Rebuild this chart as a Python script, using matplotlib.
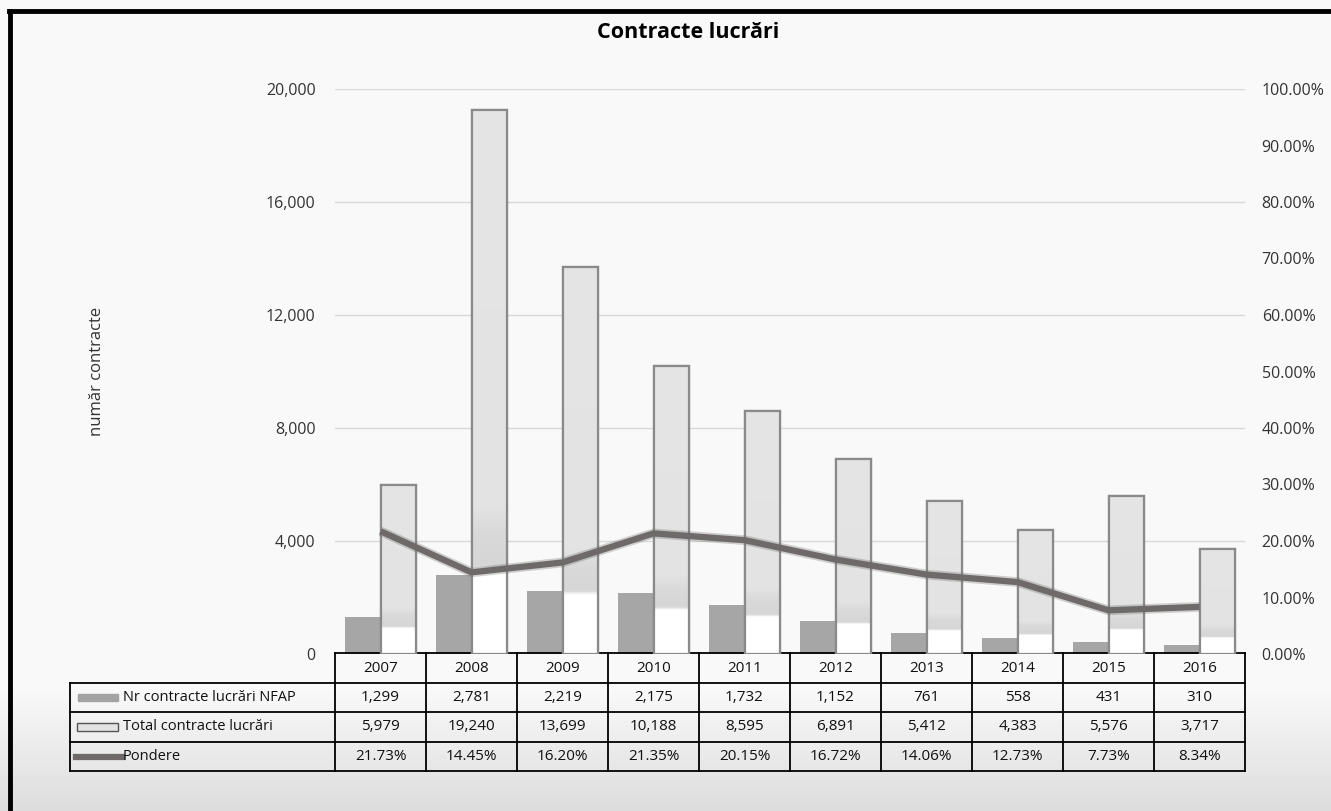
import matplotlib.pyplot as plt
import numpy as np
from matplotlib.transforms import blended_transform_factory
from matplotlib.colors import LinearSegmentedColormap
from matplotlib.ticker import FuncFormatter, MultipleLocator
import matplotlib.patches as mpatches

years = ['2007', '2008', '2009', '2010', '2011', '2012', '2013', '2014', '2015', '2016']
nfap = [1299, 2781, 2219, 2175, 1732, 1152, 761, 558, 431, 310]
total = [5979, 19240, 13699, 10188, 8595, 6891, 5412, 4383, 5576, 3717]
pondere = [21.73, 14.45, 16.20, 21.35, 20.15, 16.72, 14.06, 12.73, 7.73, 8.34]
row_labels = ['Nr contracte lucrări NFAP', 'Total contracte lucrări', 'Pondere']

plt.rcParams['font.family'] = ['Open Sans', 'DejaVu Sans']

W, H = 1331, 811
fig = plt.figure(figsize=(W / 100, H / 100), dpi=100)

# background gradient
bg = fig.add_axes([0, 0, 1, 1], zorder=-10)
bg.axis('off')
g = np.ones((H, 1))
yy = np.arange(H)
g[:, 0] = np.where(yy < 690, 0.973, 0.973 - (yy - 690) / (H - 690) * 0.11)
bg.imshow(g, cmap='gray', vmin=0, vmax=1, aspect='auto', extent=[0, 1, 0, 1])
bg.set_xlim(0, 1)
bg.set_ylim(0, 1)


def fx(px):
    return px / W


def fy(py):
    return 1 - py / H


# black frame (left and top)
fig.add_artist(plt.Line2D([fx(10), fx(10)], [fy(11), 0], color='black', lw=3.5))
fig.add_artist(plt.Line2D([fx(8.5), 1], [fy(11), fy(11)], color='black', lw=3.5))

ax_l, ax_r, ax_t, ax_b = 335, 1245, 89, 654
ax = fig.add_axes([fx(ax_l), fy(ax_b), fx(ax_r - ax_l), (ax_b - ax_t) / H])
ax.set_facecolor('none')
x = np.arange(len(years))
ax.yaxis.set_major_locator(MultipleLocator(4000))
ax.yaxis.set_major_formatter(FuncFormatter(lambda v, p: f'{int(v):,}'))
ax.grid(axis='y', color='#d9d9d9', lw=1)
ax.set_axisbelow(True)
for s in ax.spines.values():
    s.set_visible(False)
ax.tick_params(axis='y', length=0, pad=14, labelsize=11.5, colors='#333333')
ax.set_xticks([])
ax.set_ylabel('număr contracte', fontsize=12, color='#333333', labelpad=116)

bw = 0.385
ax.bar(x - bw / 2, nfap, bw, color='#a6a6a6', zorder=2)
tbars = ax.bar(x + bw / 2, total, bw, color='#e3e3e3', edgecolor='#8a8a8a', lw=1.6, zorder=3)

cmap = LinearSegmentedColormap.from_list('grad', [
    (0.0, '#ffffff'), (0.152, '#ffffff'), (0.162, '#d6d6d6'),
    (0.22, '#d9d9d9'), (0.27, '#e3e3e3'), (1.0, '#e5e5e5')])
grad = np.linspace(0, 1, 512).reshape(-1, 1)
for b in tbars:
    im = ax.imshow(grad, cmap=cmap, vmin=0, vmax=1, aspect='auto', origin='lower',
                   extent=[b.get_x(), b.get_x() + b.get_width(), 0, b.get_height()],
                   zorder=3.1, interpolation='bilinear')
    im.set_clip_path(b)
    ax.add_patch(mpatches.Rectangle((b.get_x(), 0), b.get_width(), b.get_height(),
                                    fill=False, edgecolor='#8a8a8a', lw=1.6, zorder=3.2))
ax.set_xlim(-0.5, len(years) - 0.5)
ax.set_ylim(0, 20000)

ax2 = ax.twinx()
ax2.set_ylim(0, 100)
ax2.yaxis.set_major_locator(MultipleLocator(10))
ax2.yaxis.set_major_formatter(FuncFormatter(lambda v, p: f'{v:.2f}%'))
ax2.tick_params(axis='y', length=0, pad=12, labelsize=11.5, colors='#333333')
for s in ax2.spines.values():
    s.set_visible(False)
# soft edge around the line
ax2.plot(x, pondere, color='#6e6a6a', alpha=0.3, lw=7, zorder=4, solid_capstyle='butt')
ax2.plot(x, pondere, color='#6e6a6a', lw=4.5, zorder=5, solid_capstyle='butt')

fig.text(fx(688), fy(33), 'Contracte lucrări', ha='center', va='center',
         fontsize=15.5, fontweight='bold', color='black')

# data table
tr = blended_transform_factory(ax.transData, fig.transFigure)
rows_px = [653, 683, 712, 742, 771]
lab_l = 70
lc = 'black'
lw = 1.3
for i, r in enumerate(rows_px):
    ax.add_line(plt.Line2D([-0.5, len(years) - 0.5], [fy(r), fy(r)], transform=tr,
                           color=lc, lw=lw, clip_on=False))
    if i >= 1:
        fig.add_artist(plt.Line2D([fx(lab_l), fx(ax_l)], [fy(r), fy(r)], color=lc, lw=lw))
for k in range(len(years) + 1):
    ax.add_line(plt.Line2D([k - 0.5, k - 0.5], [fy(rows_px[0]), fy(rows_px[-1])], transform=tr,
                           color=lc, lw=lw, clip_on=False))
fig.add_artist(plt.Line2D([fx(lab_l), fx(lab_l)], [fy(rows_px[1]), fy(rows_px[-1])], color=lc, lw=lw))

cells = [years,
         [f'{v:,}' for v in nfap],
         [f'{v:,}' for v in total],
         [f'{v:.2f}%' for v in pondere]]
for r, vals in enumerate(cells):
    yc = fy((rows_px[r] + rows_px[r + 1]) / 2)
    for i, t in enumerate(vals):
        ax.text(x[i], yc, t, transform=tr, ha='center', va='center', fontsize=11,
                color='#111111', clip_on=False)

for r, lab in enumerate(row_labels):
    yc = fy((rows_px[r + 1] + rows_px[r + 2]) / 2)
    fig.text(fx(123), yc, lab, ha='left', va='center', fontsize=10.5, color='#111111')

# legend keys
y1 = (rows_px[1] + rows_px[2]) / 2
fig.add_artist(mpatches.Rectangle((fx(78), fy(y1 + 3.5)), fx(40), 7 / H, color='#a3a3a3'))
y2 = (rows_px[2] + rows_px[3]) / 2
fig.add_artist(mpatches.Rectangle((fx(77), fy(y2 + 4)), fx(41), 8 / H, facecolor='#e3e3e3',
                                  edgecolor='#555555', lw=1))
y3 = (rows_px[3] + rows_px[4]) / 2
fig.add_artist(plt.Line2D([fx(76), fx(122)], [fy(y3), fy(y3)], color='#6e6a6a', lw=4.5))

fig.savefig('out.png', dpi=100)
